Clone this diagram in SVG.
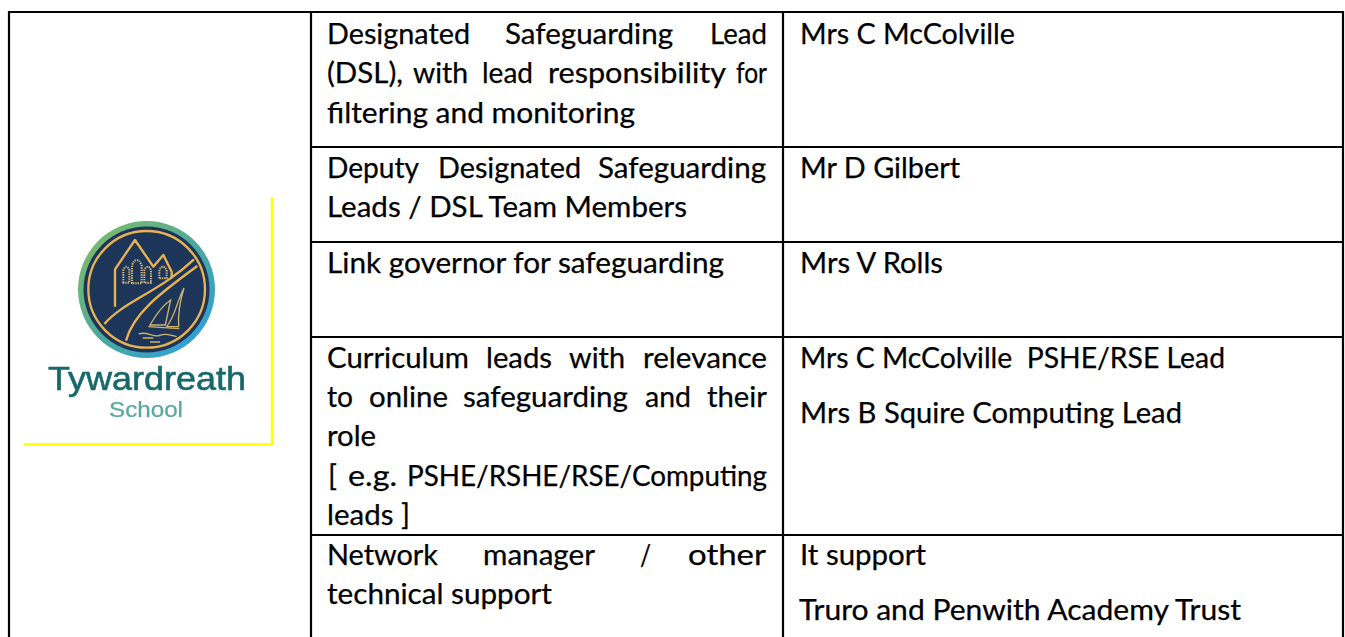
<svg xmlns="http://www.w3.org/2000/svg" width="1345" height="637" viewBox="0 0 1345 637">
<style>
.t{font-family:Lato,"Open Sans","Liberation Sans",sans-serif;font-size:28px;fill:#000;stroke:#000;stroke-width:0.25}
.g{stroke:#000;stroke-width:2.2;fill:none}
.y{stroke:#ff0;stroke-width:2.4;fill:none}
.au{stroke:#e8b452;fill:none;stroke-width:7;stroke-linejoin:round}
.au2{stroke:#cdb36c;fill:none;stroke-width:4}
.win{stroke:#d8bd78;fill:none;stroke-width:6;stroke-dasharray:4 3}
.lg{font-family:"Liberation Sans",Arial,sans-serif}
</style>
<defs>
<linearGradient id="ring" x1="0.1" y1="0.1" x2="0.9" y2="0.9"><stop offset="0" stop-color="#7dba6b"/><stop offset="0.55" stop-color="#4aa7a0"/><stop offset="1" stop-color="#2f9fd8"/></linearGradient>
<filter id="soft"><feGaussianBlur stdDeviation="0.45"/></filter>
</defs>
<rect width="1345" height="637" fill="#fff"/>
<g id="grid" class="g">
<path d="M9 637V12H1343V637"/>
<path d="M311 12V637M783 12V637"/>
<path d="M311 147H1343M311 242H1343M311 337H1343M311 535H1343"/>
</g>
<g id="logo-frame" class="y"><path d="M272 197V444.500M24 444.500H273"/></g>
<g id="logo" filter="url(#soft)">
<circle cx="146.500" cy="289.500" r="68.500" fill="url(#ring)"/>
<circle cx="146.500" cy="289.500" r="63" fill="#1f3558"/>
<g transform="translate(60 210) scale(0.3333)">
<circle cx="260" cy="238" r="175" class="au"/>
<path class="au" d="M165 290V178L225 90L280 170L310 135L335 185V205"/>
<path class="au" d="M133 342C190 275 300 245 402 148"/>
<path class="au" d="M198 392C220 310 300 250 412 168"/>
<path class="au2" d="M270 345C290 310 310 285 332 270L316 345Z"/>
<path class="au2" d="M320 350C345 320 352 270 372 234C358 280 354 320 356 350Z"/>
<path class="au2" d="M265 350L358 356M236 372C260 362 280 384 300 376S340 378 350 380M248 384H280M270 396H300"/>
<path class="win" d="M190 218V180Q200 160 208 180V218Z"/>
<path class="win" d="M216 220V165Q230 135 245 165V220Z"/>
<path class="win" d="M253 218V180Q263 160 273 180V218Z"/>
<path class="win" d="M298 205V180Q308 160 320 180V205Z"/>
</g>
<text class="lg" x="48" y="390" font-size="34" fill="#17686b" stroke="#17686b" stroke-width="0.6" textLength="198" lengthAdjust="spacingAndGlyphs">Tywardreath</text>
<text class="lg" x="109" y="417" font-size="22" fill="#5ba8a0" stroke="#5ba8a0" stroke-width="0.25" textLength="74" lengthAdjust="spacingAndGlyphs">School</text>
</g>
<g transform="translate(0 0.6)">
<g id="row-1">
<text class="t" y="43"><tspan x="327" textLength="143" lengthAdjust="spacingAndGlyphs">Designated</tspan><tspan x="505" textLength="168" lengthAdjust="spacingAndGlyphs">Safeguarding</tspan><tspan x="710" textLength="57" lengthAdjust="spacingAndGlyphs">Lead</tspan></text>
<text class="t" y="82.500"><tspan x="327" textLength="76" lengthAdjust="spacingAndGlyphs">(DSL),</tspan><tspan x="413" textLength="55" lengthAdjust="spacingAndGlyphs">with</tspan><tspan x="482" textLength="51" lengthAdjust="spacingAndGlyphs">lead</tspan><tspan x="548" textLength="178" lengthAdjust="spacingAndGlyphs">responsibility</tspan><tspan x="736" textLength="31" lengthAdjust="spacingAndGlyphs">for</tspan></text>
<text class="t" x="327" y="122" textLength="308" lengthAdjust="spacingAndGlyphs">filtering and monitoring</text>
<text class="t" x="800" y="43" textLength="215" lengthAdjust="spacingAndGlyphs">Mrs C McColville</text>
</g>
<g id="row-2">
<text class="t" y="177"><tspan x="327" textLength="92" lengthAdjust="spacingAndGlyphs">Deputy</tspan><tspan x="438" textLength="143" lengthAdjust="spacingAndGlyphs">Designated</tspan><tspan x="598" textLength="168" lengthAdjust="spacingAndGlyphs">Safeguarding</tspan></text>
<text class="t" x="327" y="216" textLength="360" lengthAdjust="spacingAndGlyphs">Leads / DSL Team Members</text>
<text class="t" x="800" y="177" textLength="160" lengthAdjust="spacingAndGlyphs">Mr D Gilbert</text>
</g>
<g id="row-3">
<text class="t" x="327" y="272" textLength="397" lengthAdjust="spacingAndGlyphs">Link governor for safeguarding</text>
<text class="t" x="800" y="272" textLength="143" lengthAdjust="spacingAndGlyphs">Mrs V Rolls</text>
</g>
<g id="row-4">
<text class="t" y="367"><tspan x="327" textLength="142" lengthAdjust="spacingAndGlyphs">Curriculum</tspan><tspan x="486" textLength="66" lengthAdjust="spacingAndGlyphs">leads</tspan><tspan x="569" textLength="56" lengthAdjust="spacingAndGlyphs">with</tspan><tspan x="643" textLength="124" lengthAdjust="spacingAndGlyphs">relevance</tspan></text>
<text class="t" y="406"><tspan x="327" textLength="26" lengthAdjust="spacingAndGlyphs">to</tspan><tspan x="369" textLength="79" lengthAdjust="spacingAndGlyphs">online</tspan><tspan x="463" textLength="165" lengthAdjust="spacingAndGlyphs">safeguarding</tspan><tspan x="645" textLength="46" lengthAdjust="spacingAndGlyphs">and</tspan><tspan x="707" textLength="60" lengthAdjust="spacingAndGlyphs">their</tspan></text>
<text class="t" x="327" y="445" textLength="49" lengthAdjust="spacingAndGlyphs">role</text>
<text class="t" y="485"><tspan x="328" textLength="9" lengthAdjust="spacingAndGlyphs">[</tspan><tspan x="348" textLength="49" lengthAdjust="spacingAndGlyphs">e.g.</tspan><tspan x="407" textLength="360" lengthAdjust="spacingAndGlyphs">PSHE/RSHE/RSE/Computing</tspan></text>
<text class="t" x="327" y="524" textLength="83" lengthAdjust="spacingAndGlyphs">leads ]</text>
<text class="t" x="800" y="367" textLength="425" lengthAdjust="spacingAndGlyphs" xml:space="preserve">Mrs C McColville  PSHE/RSE Lead</text>
<text class="t" x="800" y="422" textLength="382" lengthAdjust="spacingAndGlyphs">Mrs B Squire Computing Lead</text>
</g>
<g id="row-5">
<text class="t" y="564"><tspan x="327" textLength="111" lengthAdjust="spacingAndGlyphs">Network</tspan><tspan x="483" textLength="112" lengthAdjust="spacingAndGlyphs">manager</tspan><tspan x="640" textLength="11" lengthAdjust="spacingAndGlyphs">/</tspan><tspan x="688" textLength="78" lengthAdjust="spacingAndGlyphs">other</tspan></text>
<text class="t" x="327" y="603" textLength="225" lengthAdjust="spacingAndGlyphs">technical support</text>
<text class="t" x="800" y="564" textLength="126" lengthAdjust="spacingAndGlyphs">It support</text>
<text class="t" x="799" y="619" textLength="442" lengthAdjust="spacingAndGlyphs">Truro and Penwith Academy Trust</text>
</g>
</g>
</svg>
